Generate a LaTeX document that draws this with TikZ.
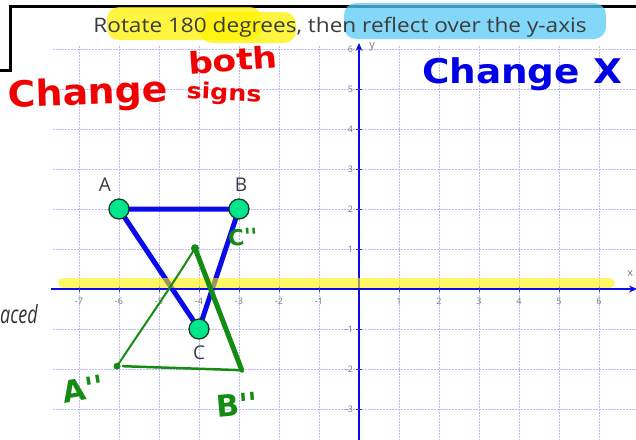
\documentclass[tikz,border=0pt]{standalone}
\usepackage{fontspec}
\setmainfont{Open Sans}
\newfontfamily\handfont{DejaVu Sans}
\usetikzlibrary{arrows.meta}
\definecolor{gridc}{RGB}{185,185,245}
\definecolor{axisblue}{RGB}{10,10,235}
\definecolor{ptfill}{RGB}{0,230,140}
\definecolor{ptdraw}{RGB}{25,60,40}
\definecolor{hgreen}{RGB}{20,140,20}
\definecolor{hred}{RGB}{240,0,0}
\definecolor{hblue}{RGB}{0,0,230}
\definecolor{titlegray}{RGB}{60,60,60}
\definecolor{labgray}{RGB}{120,120,120}
\tikzset{
  gridline/.style={gridc, line width=0.8pt, dash pattern=on 2pt off 1pt},
  axisline/.style={axisblue, line width=1.6pt, -{Stealth[length=8pt,width=7pt]}},
  tickmark/.style={axisblue!60!gray, line width=0.8pt},
  ticklab/.style={labgray, font=\fontsize{9}{10}\selectfont, inner sep=1pt},
  ptnode/.style={circle, fill=ptfill, draw=ptdraw, line width=1.3pt, minimum size=20pt, inner sep=0pt},
  triedge/.style={axisblue, line width=5pt},
  ptlabel/.style={titlegray, font=\fontsize{19}{20}\selectfont},
  hlight/.style={rounded corners=12pt, opacity=0.75},
  greenthin/.style={hgreen, line width=2pt, line cap=round},
  greenthick/.style={hgreen, line width=5pt, line cap=round},
  greenlab/.style={hgreen, font=\handfont\bfseries\fontsize{30}{30}\selectfont},
  handred/.style={hred, font=\handfont\bfseries},
  frameline/.style={black, line width=3pt},
}
\begin{document}
\begin{tikzpicture}[x=1pt,y=-1pt]
\useasboundingbox (0,0) rectangle (636,439);
% frame
\draw[frameline] (0,70) -- (10,70) -- (10,6) -- (640,6);
% title highlights
\fill[yellow, hlight] (107,7) rectangle (262,40);
\fill[yellow, hlight] (200,12) rectangle (296,43);
\fill[cyan!65!white, hlight] (344,3) rectangle (606,39);
% title
\node[titlegray, font=\fontsize{20}{21}\selectfont, anchor=base, xscale=1.13] (title) at (340,32) {Rotate 180 degrees, then reflect over the y-axis};
% graph
\begin{scope}[shift={(359,289)}, x=40pt, y=40pt]
  \foreach \i in {-7,...,6} \draw[gridline] (\i,-3.8) -- (\i,6.1);
  \foreach \j in {-3,...,6} \draw[gridline] (-7.65,\j) -- (6.95,\j);
  \draw[axisline] (-7.7,0) -- (6.95,0);
  \draw[axisline] (0,-3.8) -- (0,6.15);
  \foreach \i in {-7,...,-1,1,2,3,4,5,6} {
    \draw[tickmark] (\i,0.08) -- (\i,-0.08);
    \node[ticklab] at (\i,-0.3) {\i};
  }
  \foreach \j in {-3,-2,-1,1,2,3,4,5,6} {
    \draw[tickmark] (-0.08,\j) -- (0.08,\j);
    \node[ticklab, anchor=east] at (-0.12,\j) {\j};
  }
  \node[labgray, font=\fontsize{11}{12}\selectfont] (xlab) at (6.78,0.38) {x};
  \node[labgray, font=\fontsize{11}{12}\selectfont] (ylab) at (0.33,6.05) {y};
  % blue triangle
  \coordinate (pa) at (-6,2);
  \coordinate (pb) at (-3,2);
  \coordinate (pc) at (-4,-1);
  \draw[triedge, line join=round] (pa) -- (pb) -- (pc) -- cycle;
  \node[ptnode] (A) at (pa) {};
  \node[ptnode] (B) at (pb) {};
  \node[ptnode] (C) at (pc) {};
  \node[ptlabel] (Alab) at (-6.35,2.6) {A};
  \node[ptlabel] (Blab) at (-2.95,2.6) {B};
  \node[ptlabel] (Clab) at (-4,-1.6) {C};
  % highlight of x-axis
  \draw[yellow, opacity=0.6, line width=10pt, line cap=round] (-7.4,0.15) -- (6.27,0.15);
  % green triangle
  \coordinate (gc) at (-4.1,1.02);
  \coordinate (ga) at (-6.05,-1.93);
  \coordinate (gb) at (-2.93,-2.03);
  \draw[greenthin] (ga) .. controls (-5.3,-0.8) and (-4.6,0.2) .. (gc);
  \draw[greenthick] (gc) -- (gb);
  \draw[greenthin, line width=2.5pt] (-5.9,-1.93) -- (gb);
  \fill[hgreen] (gc) circle (4pt);
  \fill[hgreen] (ga) circle (3.5pt);
  \node[greenlab, rotate=10] (gAlab) at (-6.9,-2.5) {A''};
  \node[greenlab, rotate=5] (gBlab) at (-3.05,-2.9) {B''};
  \node[greenlab, font=\handfont\bfseries\fontsize{22}{22}\selectfont, rotate=5] (gClab) at (-2.9,1.3) {C''};
\end{scope}
% partial word at left
\node[black!80, font=\itshape\fontsize{25}{25}\selectfont, anchor=base west, inner sep=0pt, xscale=0.72] (aced) at (0,323) {aced};
% handwritten notes
\node[handred, font=\handfont\bfseries\fontsize{36}{36}\selectfont, rotate=2, xscale=1.05] (chg1) at (88,95) {Change};
\node[handred, font=\handfont\bfseries\fontsize{30}{30}\selectfont, rotate=4, xscale=1.15, inner sep=0pt] (both) at (233,60) {both};
\node[handred, font=\handfont\bfseries\fontsize{22}{22}\selectfont, rotate=-3, xscale=1.15, inner sep=0pt] (signs) at (224,94) {signs};
\node[hblue, font=\handfont\bfseries\fontsize{34}{34}\selectfont, xscale=1.1] (chg2) at (522,74) {Change X};
\end{tikzpicture}
\end{document}
